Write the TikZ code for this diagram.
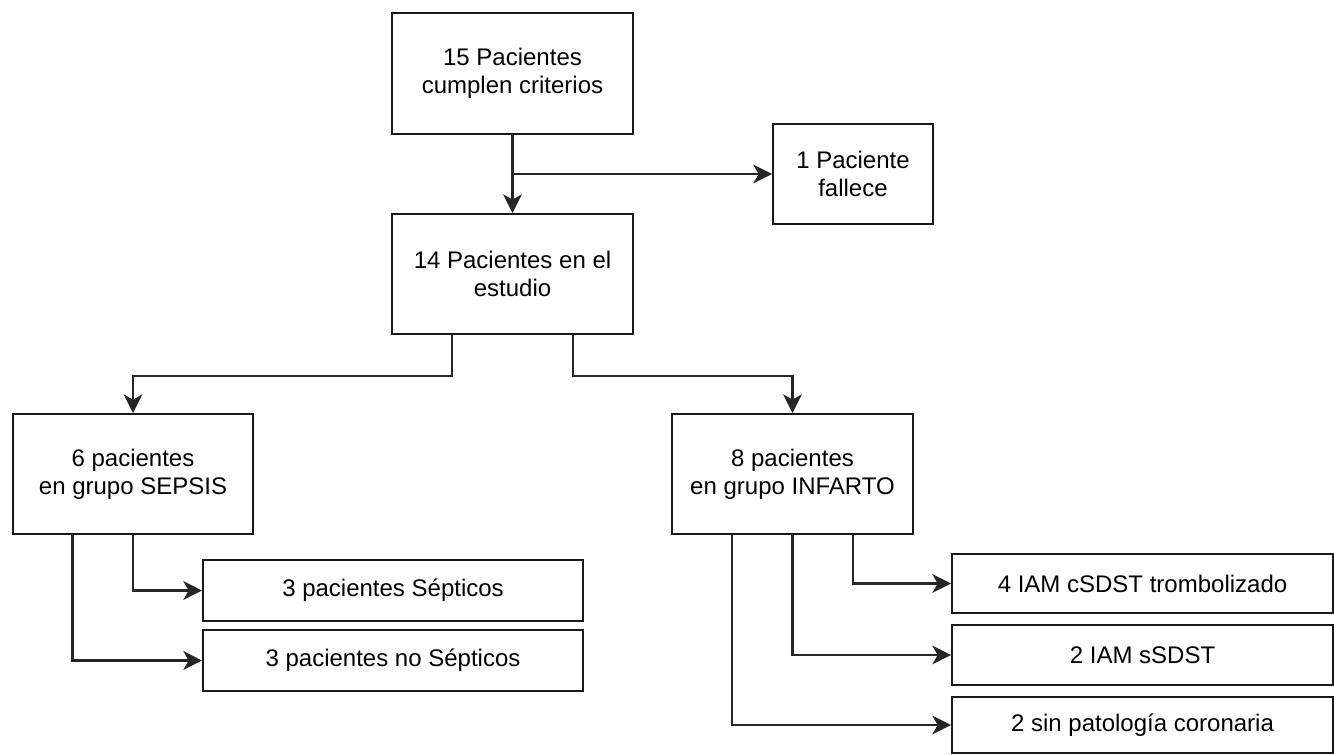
\documentclass[tikz,border=0pt]{standalone}
\usepackage{fontspec}
\setmainfont{Liberation Sans}
\usetikzlibrary{arrows.meta,calc}
\tikzset{
  box/.style={draw=black!90, line width=1.5pt, rectangle, align=center, inner sep=0pt,
    font=\fontsize{18pt}{21pt}\selectfont},
  arr/.style={draw=black!85, line width=1.6pt, -{Stealth[length=14pt,width=14pt,inset=4pt]}},
}
\begin{document}
\begin{tikzpicture}[x=0.75pt,y=-0.75pt]
\useasboundingbox (0,0) rectangle (1334,754);
\node[box, minimum width=241*0.75pt, minimum height=121*0.75pt] (A) at (512.5,73.5) {15 Pacientes\\cumplen criterios};
\node[box, minimum width=160*0.75pt, minimum height=100*0.75pt] (B) at (853,174) {1 Paciente\\fallece};
\node[box, minimum width=241*0.75pt, minimum height=120*0.75pt] (C) at (512.5,274) {14 Pacientes en el\\estudio};
\node[box, minimum width=240*0.75pt, minimum height=120*0.75pt] (D) at (133,474) {6 pacientes\\en grupo SEPSIS};
\node[box, minimum width=241*0.75pt, minimum height=120*0.75pt] (E) at (792.5,474) {8 pacientes\\en grupo INFARTO};
\node[box, minimum width=380*0.75pt, minimum height=61*0.75pt] (F) at (393,590.5) {3 pacientes Sépticos};
\node[box, minimum width=380*0.75pt, minimum height=61*0.75pt] (G) at (393,660.5) {3 pacientes no Sépticos};
\node[box, minimum width=381*0.75pt, minimum height=59*0.75pt] (H) at (1142.5,583.5) {4 IAM cSDST trombolizado};
\node[box, minimum width=381*0.75pt, minimum height=60*0.75pt] (I) at (1142.5,655) {2 IAM sSDST};
\node[box, minimum width=381*0.75pt, minimum height=56*0.75pt] (J) at (1142.5,725) {2 sin patología coronaria};

\draw[arr] (A.south) -- (C.north);
\draw[arr] (A.south |- B.west) -- (B.west);
\draw[arr] ($(C.south west)!0.25!(C.south east)$) -- ++(0,41) -| (D.north);
\draw[arr] ($(C.south west)!0.75!(C.south east)$) -- ++(0,41) -| (E.north);
\draw[arr] (D.south) |- (F.west);
\draw[arr] ($(D.south west)!0.25!(D.south east)$) |- (G.west);
\draw[arr] ($(E.south west)!0.75!(E.south east)$) |- (H.west);
\draw[arr] (E.south) |- (I.west);
\draw[arr] ($(E.south west)!0.25!(E.south east)$) |- (J.west);
\end{tikzpicture}
\end{document}
